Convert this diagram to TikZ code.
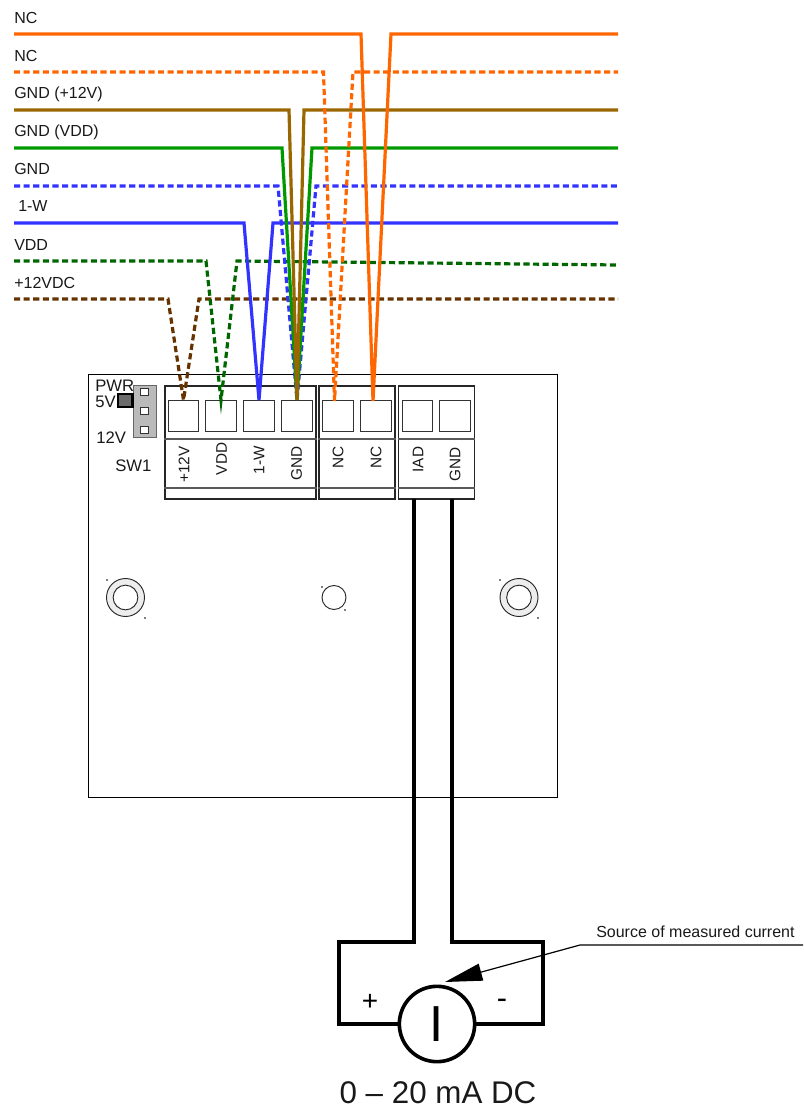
\documentclass[tikz,border=0pt]{standalone}
\usepackage{fontspec}
\setmainfont{Liberation Sans}
\usetikzlibrary{arrows.meta}
\definecolor{wOrange}{HTML}{FF6600}
\definecolor{wBrown}{HTML}{996600}
\definecolor{wGreen}{HTML}{009900}
\definecolor{wBlue}{HTML}{3333FF}
\definecolor{wDkGreen}{HTML}{006600}
\definecolor{wDkBrown}{HTML}{663300}
\tikzset{
  wire/.style={line width=2.4pt,line join=miter},
  dwire/.style={wire,dash pattern=on 4.6pt off 2.6pt},
  txt/.style={inner sep=0,font=\fontsize{12}{12}\selectfont,anchor=base west,text=black!90},
  vtxt/.style={inner sep=0,font=\fontsize{11.5}{12}\selectfont,rotate=90,text=black!90},
  sm/.style={inner sep=0,font=\fontsize{12.5}{12}\selectfont,anchor=base west,text=black!90},
  block/.style={draw=black!85,line width=1.2pt},
  termsq/.style={draw=black!80,line width=1pt,fill=white,minimum width=22.8pt,minimum height=22.8pt,inner sep=0},
  pin/.style={draw=black!80,line width=0.7pt,fill=white,minimum size=5.5pt,inner sep=0},
  thick wire/.style={line width=2.7pt,line join=miter,draw=black},
  hole/.style={draw=black!85,line width=0.7pt,circle,inner sep=0},
  tick/.style={fill=black!50,draw=none,minimum size=0.9pt,inner sep=0}
}
\begin{document}
\begin{tikzpicture}[x=0.75pt,y=-0.75pt]
\useasboundingbox (0,0) rectangle (803,1109);
% board
\node[draw=black,line width=0.75pt,minimum width=351.4pt,minimum height=316.9pt,inner sep=0] (board) at (322.8,586) {};
% jumper
\node[draw=black!60,line width=0.7pt,fill=black!27,minimum width=17.2pt,minimum height=39pt,inner sep=0] (sw) at (144.5,411) {};
\node[pin] (p1) at (144.5,392) {};
\node[pin] (p2) at (144.5,411) {};
\node[pin] (p3) at (144.5,430) {};
\node[draw=black,line width=1.6pt,fill=black!58,minimum width=10.8pt,minimum height=9.4pt,inner sep=0] (jmp) at (125.3,400.5) {};
\node[sm] (tpwr) at (95,391.5) {PWR};
\node[sm] (t5v) at (95,407.5) {5V};
\node[sm] (t12v) at (96,443.5) {12V};
\node[sm] (tsw) at (115,471.5) {SW1};
% blocks
\node[block,minimum width=113.6pt,minimum height=84.7pt,inner sep=0] (b1) at (240.5,442.5) {};
\node[block,minimum width=57pt,minimum height=84.7pt,inner sep=0] (b2) at (357,442.5) {};
\node[block,minimum width=57pt,minimum height=84.7pt,inner sep=0] (b3) at (436.5,442.5) {};
\foreach \n in {b1,b2,b3}{
  \draw[draw=black!65,line width=0.9pt] (\n.west |- 0,439) -- (\n.east |- 0,439);
  \draw[draw=black!65,line width=0.9pt] (\n.west |- 0,488) -- (\n.east |- 0,488);
}
\node[termsq] (t1) at (183.5,416) {};
\node[termsq] (t2) at (221,416) {};
\node[termsq] (t3) at (259,416) {};
\node[termsq] (t4) at (297,416) {};
\node[termsq] (t5) at (338,416) {};
\node[termsq] (t6) at (376,416) {};
\node[termsq] (t7) at (417.5,416) {};
\node[termsq] (t8) at (455,416) {};
\node[vtxt] (l1) at (184,464.5) {+12V};
\node[vtxt] (l2) at (221.5,459) {VDD};
\node[vtxt] (l3) at (259,460) {1-W};
\node[vtxt] (l4) at (296.5,463) {GND};
\node[vtxt] (l5) at (338,457.5) {NC};
\node[vtxt] (l6) at (376,457.5) {NC};
\node[vtxt] (l7) at (418,459.5) {IAD};
\node[vtxt] (l8) at (455,464) {GND};
% mounting holes
\node[hole,fill=black!7,minimum size=28.5pt] (mh1) at (125.5,597.5) {};
\node[hole,fill=white,minimum size=18.5pt] (mh1i) at (125.5,597.5) {};
\node[hole,fill=black!7,minimum size=28.5pt] (mh3) at (519,597.5) {};
\node[hole,fill=white,minimum size=18.5pt] (mh3i) at (519,597.5) {};
\node[hole,fill=white,minimum size=18pt] (mh2) at (334,597.5) {};
\node[tick] (k1) at (107,580) {};
\node[tick] (k2) at (145,618) {};
\node[tick] (k3) at (322,587) {};
\node[tick] (k4) at (345,610) {};
\node[tick] (k5) at (500,580) {};
\node[tick] (k6) at (538,618) {};
% wire left labels
\node[txt] (n1) at (14,23.5) {NC};
\node[txt] (n2) at (14,61.5) {NC};
\node[txt] (n3) at (14,98.5) {GND (+12V)};
\node[txt] (n4) at (14,136.5) {GND (VDD)};
\node[txt] (n5) at (14,174.5) {GND};
\node[txt] (n6) at (18,211.5) {1-W};
\node[txt] (n7) at (14,250) {VDD};
\node[txt] (n8) at (14,288.5) {+12VDC};
% wire end points
\foreach \nm/\y in {a/34,b/72,c/110,d/148,e/186,f/223,g/261,h/299}{
  \coordinate (\nm L) at (14,\y);
}
\foreach \nm/\y in {a/34,b/72,c/110,d/148,e/186,f/223,h/299}{
  \coordinate (\nm R) at (618,\y);
}
\coordinate (gR) at (618,265);
% wires
\draw[dwire,wDkBrown] (hL) -- (168,299) -- (t1.north) -- (199,299) -- (hR);
\draw[dwire,wDkGreen] (gL) -- (206,261) -- (t2.north) -- (237,261) -- (gR);
\draw[wire,wBlue] (fL) -- (244,223) -- (t3.north) -- (273,223) -- (fR);
\draw[dwire,wBlue] (eL) -- (278,186) -- (t4.north) -- (316,186) -- (eR);
\draw[wire,wGreen] (dL) -- (282,148) -- (t4.north) -- (312,148) -- (dR);
\draw[wire,wBrown] (cL) -- (289,110) -- (t4.north) -- (304,110) -- (cR);
\draw[dwire,wOrange] (bL) -- (323.5,72) -- (334.5,401) -- (353,72) -- (bR);
\draw[wire,wOrange] (aL) -- (361,34) -- (373,401) -- (391,34) -- (aR);
% current source
\node[draw=black,line width=2.7pt,circle,minimum size=56.5pt,inner sep=0,font=\fontsize{38}{38}\selectfont] (src) at (437,1024) {I};
\draw[thick wire] (414,499) -- (414,942) -- (339,942) -- (339,1024) -- (src.west);
\draw[thick wire] (452,499) -- (452,942) -- (543,942) -- (543,1024) -- (src.east);
\node[inner sep=0,font=\fontsize{21}{21}\selectfont] (plus) at (370,1002) {+};
\node[inner sep=0,font=\fontsize{23}{21}\selectfont] (minus) at (502,1004) {-};
\node[inner sep=0,font=\fontsize{23.5}{24}\selectfont,text=black!90] (cap) at (438,1093) {0 – 20 mA DC};
\node[inner sep=0,font=\fontsize{12}{12}\selectfont,anchor=base west,text=black!90] (srcl) at (596,937.5) {Source of measured current};
\coordinate (ann) at (803,945);
\coordinate (anntip) at (445,982);
\draw[line width=0.9pt,draw=black,-{Triangle[length=28pt,width=13pt,fill=black]}] (ann) -- (580,945) -- (anntip);
\end{tikzpicture}
\end{document}
